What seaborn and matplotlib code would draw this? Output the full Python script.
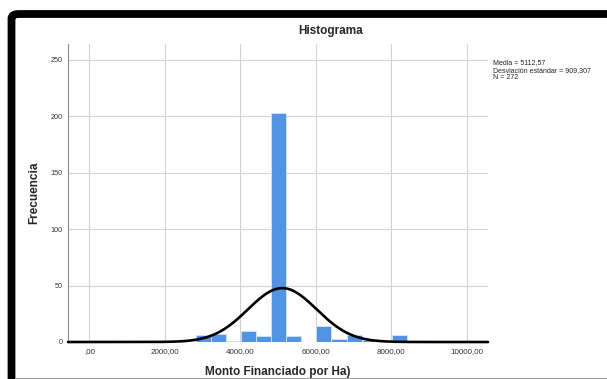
import numpy as np
import pandas as pd
import matplotlib
matplotlib.use("Agg")
import matplotlib.pyplot as plt
from matplotlib.patches import FancyBboxPatch
from matplotlib.lines import Line2D
import seaborn as sns

# Histogram data: bin starts (width 400) and frequencies
bin_width = 400
bin_starts = [2815, 3215, 3615, 4015, 4415, 4815, 5215, 5615, 6015, 6415, 6815, 7215, 7615, 8015]
frequencies = [6, 7, 1, 10, 5, 203, 5, 0, 14, 3, 6, 2, 0, 6]

# Summary statistics shown in the legend box
mean_value = 5112.57
std_value = 909.307
n_value = 272

x_ticks = [0, 2000, 4000, 6000, 8000, 10000]
x_tick_labels = [",00", "2000,00", "4000,00", "6000,00", "8000,00", "10000,00"]
y_ticks = [0, 50, 100, 150, 200, 250]

sns.set_style("white")
plt.rcParams["font.family"] = ["Liberation Sans", "DejaVu Sans"]

W, H = 607, 379
fig = plt.figure(figsize=(W / 100, H / 100), dpi=100)
ax = fig.add_axes([68 / W, 1 - 342 / H, (488 - 68) / W, (342 - 44) / H])

centers = [s + bin_width / 2 for s in bin_starts]
edges = bin_starts + [bin_starts[-1] + bin_width]
hist_df = pd.DataFrame({"monto": centers, "freq": frequencies})

sns.histplot(data=hist_df, x="monto", weights="freq", bins=edges, ax=ax,
             color="#5293E3", edgecolor="#d6e4f6", linewidth=0.6, alpha=1.0,
             zorder=3)

xmin, xmax = -564, 10562
xs = np.linspace(xmin, xmax, 600)
pdf = n_value * bin_width / (std_value * np.sqrt(2 * np.pi)) * np.exp(-0.5 * ((xs - mean_value) / std_value) ** 2)
curve_df = pd.DataFrame({"x": xs, "y": pdf})
sns.lineplot(data=curve_df, x="x", y="y", ax=ax, color="black", linewidth=1.9,
             zorder=4, clip_on=False)

ax.set_xlim(xmin, xmax)
ax.set_ylim(0, 264)
ax.set_xticks(x_ticks)
ax.set_xticklabels(x_tick_labels)
ax.set_yticks(y_ticks)
ax.set_yticklabels([str(v) for v in y_ticks])
ax.tick_params(axis="both", length=0, colors="#333333", pad=4)
ax.tick_params(axis="x", labelsize=5.8)
ax.tick_params(axis="y", labelsize=5.2)
ax.grid(True, color="#d2d2d2", linewidth=0.8, zorder=0)
ax.set_axisbelow(True)
for side in ["top", "right", "bottom"]:
    ax.spines[side].set_visible(False)
ax.spines["left"].set_color("#8a8a8a")
ax.spines["left"].set_linewidth(0.8)

ax.set_xlabel("Monto Financiado por Ha)", fontsize=8.5, fontweight="bold")
ax.set_ylabel("Frecuencia", fontsize=8.5, fontweight="bold")
ax.xaxis.set_label_coords(0.5, (342 - 366.5) / 298)
ax.yaxis.set_label_coords((40 - 68) / 420, 0.5)

fig.text(331 / W, 1 - 31 / H, "Histograma", fontsize=8.5, fontweight="bold",
         ha="center", va="center")

fig.text(493 / W, 1 - 59.5 / H,
         "Media = 5112,57\nDesviación estándar = 909,307\nN = 272",
         fontsize=5.0, ha="left", va="top", linespacing=1.05, color="#222222")

# Window frame: thick black rounded border along top and left edges
frame = FancyBboxPatch((11.5 / W, -0.2), 1.5, 1 - 14 / H + 0.2,
                       boxstyle="round,pad=0,rounding_size=0.012",
                       transform=fig.transFigure, fill=False,
                       edgecolor="black", linewidth=5.6, clip_on=True)
fig.patches.append(frame)
fig.lines.append(Line2D([15 / W, 1], [1 - 377.5 / H, 1 - 377.5 / H],
                        transform=fig.transFigure, color="#9a9a9a", linewidth=0.8))

fig.savefig("out.png", dpi=100)
